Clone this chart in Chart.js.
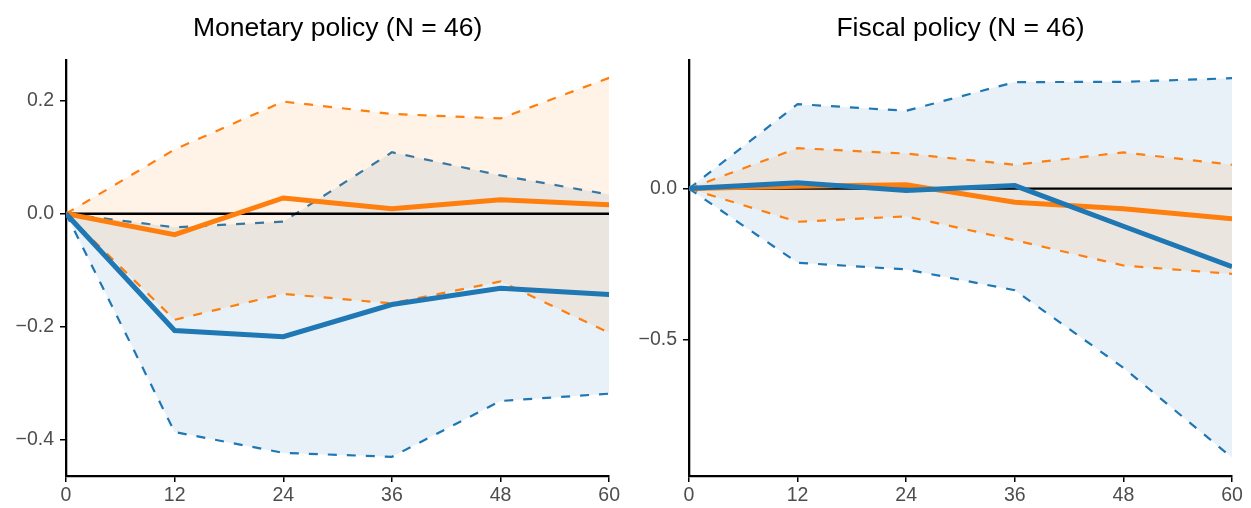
<!DOCTYPE html>
<html>
<head>
<meta charset="utf-8">
<script src="https://cdn.jsdelivr.net/npm/chart.js@4/dist/chart.umd.min.js"></script>
<style>
  html, body { margin: 0; padding: 0; background: #fff; }
  .wrap { position: relative; width: 1251px; height: 508px; }
  .panel { position: absolute; top: 0; height: 508px; }
  #left { left: 0; width: 622px; }
  #right { left: 623px; width: 628px; }
</style>
</head>
<body>
<div class="wrap">
  <div class="panel" id="left"><canvas id="monetary"></canvas></div>
  <div class="panel" id="right"><canvas id="fiscal"></canvas></div>
</div>
<script>
// horizons (months)
const horizons = [0, 12, 24, 36, 48, 60];
const xTicks = [0, 12, 24, 36, 48, 60];

// Monetary policy
const monBlue     = [0, -0.207, -0.218, -0.161, -0.132, -0.143];
const monBlueLow  = [0, -0.387, -0.424, -0.431, -0.332, -0.319];
const monBlueHigh = [0, -0.024, -0.014, 0.109, 0.068, 0.034];
const monOrange     = [0, -0.037, 0.028, 0.009, 0.025, 0.016];
const monOrangeLow  = [0, -0.188, -0.142, -0.159, -0.120, -0.211];
const monOrangeHigh = [0, 0.114, 0.199, 0.177, 0.169, 0.241];
const monYTicks = [-0.4, -0.2, 0.0, 0.2];

// Fiscal policy
const fisBlue     = [0, 0.019, -0.006, 0.010, -0.125, -0.259];
const fisBlueLow  = [0, -0.246, -0.268, -0.337, -0.594, -0.892];
const fisBlueHigh = [0, 0.280, 0.258, 0.353, 0.354, 0.366];
const fisOrange     = [0, 0.008, 0.013, -0.045, -0.067, -0.100];
const fisOrangeLow  = [0, -0.110, -0.092, -0.171, -0.255, -0.283];
const fisOrangeHigh = [0, 0.134, 0.116, 0.079, 0.120, 0.079];
const fisYTicks = [-0.5, 0.0];

const BLUE = '#1f77b4';
const ORANGE = '#ff7f0e';

const pts = vals => vals.map((v, i) => ({ x: horizons[i], y: v }));

function fmt(v) {
    const s = Math.abs(v).toFixed(1);
    return v < -1e-9 ? '\u2212' + s : s;
}

function buildChart(id, title, s, yTicks, yMin, yMax, rightPad) {
    const dashed = (data, color, fill, bg) => ({
        data: pts(data), borderColor: color, borderWidth: 2.2, borderDash: [9, 10],
        pointRadius: 0, tension: 0, fill: fill, backgroundColor: bg
    });
    const solid = (data, color) => ({
        data: pts(data), borderColor: color, borderWidth: 5,
        pointRadius: 0, tension: 0, fill: false
    });

    new Chart(document.getElementById(id), {
        type: 'line',
        data: {
            datasets: [
                solid(s.blue, BLUE),
                solid(s.orange, ORANGE),
                { data: [{ x: horizons[0], y: 0 }, { x: horizons[horizons.length - 1], y: 0 }],
                  borderColor: '#000', borderWidth: 2.3, pointRadius: 0, fill: false },
                dashed(s.orangeHigh, ORANGE, '+1', 'rgba(255,127,14,0.1)'),
                dashed(s.orangeLow, ORANGE, false),
                dashed(s.blueHigh, BLUE, '+1', 'rgba(31,119,180,0.1)'),
                dashed(s.blueLow, BLUE, false)
            ]
        },
        options: {
            responsive: true,
            maintainAspectRatio: false,
            animation: false,
            layout: { padding: { left: 0, right: rightPad, top: 0, bottom: 0 } },
            plugins: {
                legend: { display: false },
                tooltip: { enabled: false },
                title: {
                    display: true, text: title, color: '#000', fullSize: false,
                    font: { family: 'Liberation Sans', size: 26.5, weight: 'normal' },
                    padding: { top: 13, bottom: 15 }
                }
            },
            scales: {
                x: {
                    type: 'linear', min: 0, max: 60,
                    afterBuildTicks: sc => { sc.ticks = xTicks.map(v => ({ value: v })); },
                    afterFit: sc => { sc.height = 32; },
                    grid: { drawOnChartArea: false, drawTicks: true, tickLength: 6, color: '#000', lineWidth: 1.5 },
                    border: { color: '#000', width: 2.3 },
                    ticks: { color: '#4d4d4d', padding: 2, maxRotation: 0,
                             font: { family: 'Liberation Sans', size: 19.5 } }
                },
                y: {
                    type: 'linear', min: yMin, max: yMax,
                    afterBuildTicks: sc => { sc.ticks = yTicks.map(v => ({ value: v })); },
                    afterFit: sc => { sc.width = 66; },
                    grid: { drawOnChartArea: false, drawTicks: true, tickLength: 6, color: '#000', lineWidth: 1.5 },
                    border: { color: '#000', width: 2.3 },
                    ticks: { color: '#4d4d4d', padding: 6, callback: v => fmt(v),
                             font: { family: 'Liberation Sans', size: 19.5 } }
                }
            }
        }
    });
}

buildChart('monetary', 'Monetary policy (N = 46)', {
    blue: monBlue, blueLow: monBlueLow, blueHigh: monBlueHigh,
    orange: monOrange, orangeLow: monOrangeLow, orangeHigh: monOrangeHigh
}, monYTicks, -0.465, 0.273, 12);

buildChart('fiscal', 'Fiscal policy (N = 46)', {
    blue: fisBlue, blueLow: fisBlueLow, blueHigh: fisBlueHigh,
    orange: fisOrange, orangeLow: fisOrangeLow, orangeHigh: fisOrangeHigh
}, fisYTicks, -0.953, 0.427, 19);
</script>
</body>
</html>
